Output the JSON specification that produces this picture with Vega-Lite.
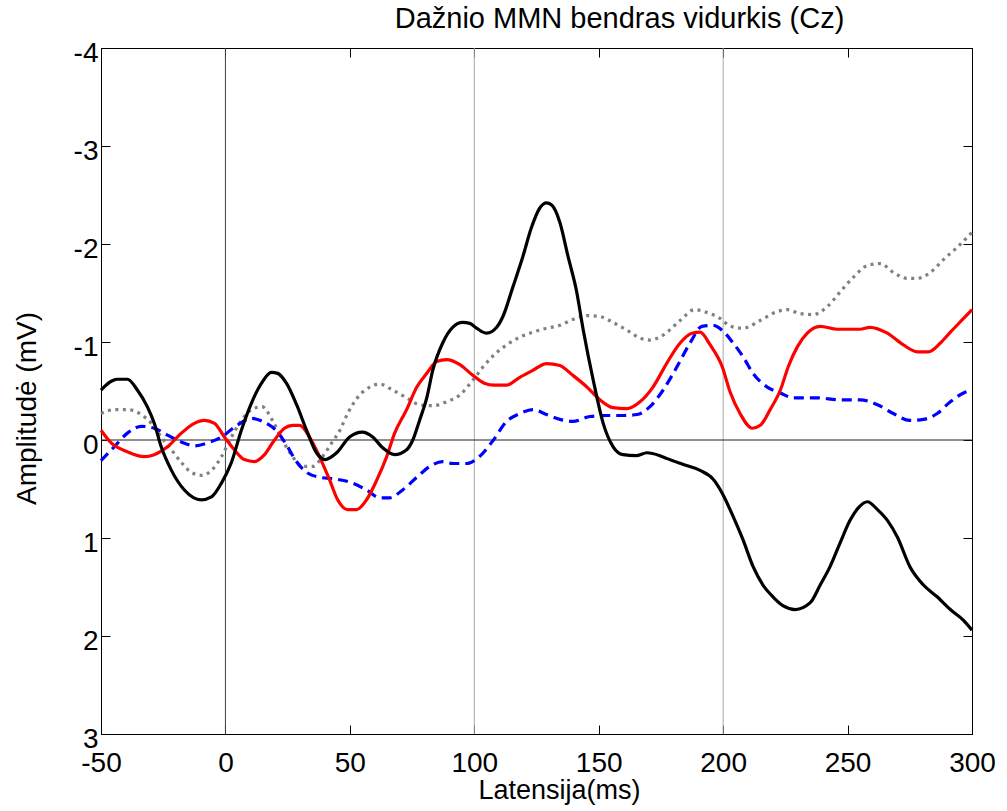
{
  "$schema": "https://vega.github.io/schema/vega-lite/v6.json",
  "width": 871,
  "height": 686,
  "autosize": {"type": "none"},
  "padding": {"left": 101, "top": 48, "right": 35, "bottom": 77},
  "background": "white",
  "config": {"font": "Liberation Sans", "view": {"stroke": "black", "strokeWidth": 1}},
  "title": {"text": "Dažnio MMN bendras vidurkis (Cz)", "font": "Liberation Sans", "fontSize": 29, "fontWeight": "normal", "color": "black", "anchor": "middle", "dx": 83, "dy": 33, "baseline": "alphabetic", "offset": 15, "frame": "group"},
  "datasets": {
    "vgrid": [{"t": 100}, {"t": 200}],
    "vzero": [{"t": 0}],
    "hzero": [{"v": 0}],
    "black": [
      {"t": -50, "v": -0.51}, {"t": -43.5, "v": -0.62}, {"t": -39.4, "v": -0.62}, {"t": -35.4, "v": -0.51}, {"t": -31.4, "v": -0.34},
      {"t": -28.6, "v": -0.17}, {"t": -25.8, "v": 0.07}, {"t": -21.7, "v": 0.31}, {"t": -16.5, "v": 0.51}, {"t": -9.7, "v": 0.61},
      {"t": -5.6, "v": 0.58}, {"t": -1.6, "v": 0.44}, {"t": 2.4, "v": 0.23}, {"t": 6.4, "v": -0.1}, {"t": 10.5, "v": -0.38},
      {"t": 14.5, "v": -0.58}, {"t": 18.5, "v": -0.69}, {"t": 21, "v": -0.68}, {"t": 24.5, "v": -0.58}, {"t": 28.6, "v": -0.36},
      {"t": 32.6, "v": -0.1}, {"t": 36.6, "v": 0.13}, {"t": 40, "v": 0.2}, {"t": 44.7, "v": 0.13}, {"t": 49.9, "v": -0.03},
      {"t": 55, "v": -0.08}, {"t": 59.2, "v": -0.03}, {"t": 63.2, "v": 0.08}, {"t": 68, "v": 0.15}, {"t": 72.8, "v": 0.1},
      {"t": 75.3, "v": 0}, {"t": 78, "v": -0.2}, {"t": 81, "v": -0.44}, {"t": 83.3, "v": -0.71}, {"t": 87.3, "v": -0.99},
      {"t": 91.3, "v": -1.15}, {"t": 95.4, "v": -1.2}, {"t": 98.2, "v": -1.19}, {"t": 101, "v": -1.14}, {"t": 105, "v": -1.09},
      {"t": 109, "v": -1.15}, {"t": 111.5, "v": -1.26}, {"t": 115.5, "v": -1.56}, {"t": 119.5, "v": -1.87}, {"t": 123, "v": -2.17},
      {"t": 126.4, "v": -2.37}, {"t": 129, "v": -2.42}, {"t": 131, "v": -2.4}, {"t": 134.4, "v": -2.22}, {"t": 137.7, "v": -1.87},
      {"t": 141, "v": -1.53}, {"t": 143.8, "v": -1.12}, {"t": 147.8, "v": -0.61}, {"t": 151.8, "v": -0.17}, {"t": 155.8, "v": 0.07},
      {"t": 159.8, "v": 0.15}, {"t": 165, "v": 0.16}, {"t": 169.4, "v": 0.13}, {"t": 174.6, "v": 0.16}, {"t": 177.5, "v": 0.19},
      {"t": 184, "v": 0.25}, {"t": 190.7, "v": 0.31}, {"t": 196, "v": 0.4}, {"t": 200, "v": 0.56}, {"t": 204, "v": 0.78},
      {"t": 208, "v": 1.02}, {"t": 212, "v": 1.29}, {"t": 216, "v": 1.48}, {"t": 220, "v": 1.6}, {"t": 224, "v": 1.69},
      {"t": 229, "v": 1.73}, {"t": 235, "v": 1.66}, {"t": 239, "v": 1.48}, {"t": 243, "v": 1.29}, {"t": 247, "v": 1.05},
      {"t": 251, "v": 0.82}, {"t": 254.4, "v": 0.69}, {"t": 258, "v": 0.63}, {"t": 262, "v": 0.71}, {"t": 266, "v": 0.82},
      {"t": 270, "v": 0.99}, {"t": 275, "v": 1.29}, {"t": 280.5, "v": 1.48}, {"t": 286, "v": 1.6}, {"t": 291.3, "v": 1.73},
      {"t": 296.6, "v": 1.84}, {"t": 300, "v": 1.94}
    ],
    "red": [
      {"t": -50, "v": -0.1}, {"t": -45.9, "v": 0.03}, {"t": -39.4, "v": 0.12}, {"t": -32.6, "v": 0.17}, {"t": -28.6, "v": 0.15},
      {"t": -23.3, "v": 0.07}, {"t": -17.7, "v": -0.07}, {"t": -12.5, "v": -0.17}, {"t": -8.5, "v": -0.2}, {"t": -4.4, "v": -0.17},
      {"t": -0.4, "v": -0.03}, {"t": 3.6, "v": 0.1}, {"t": 7.6, "v": 0.2}, {"t": 11.7, "v": 0.22}, {"t": 15.7, "v": 0.15},
      {"t": 19.7, "v": 0}, {"t": 23.7, "v": -0.12}, {"t": 27, "v": -0.15}, {"t": 29.8, "v": -0.15}, {"t": 33.8, "v": -0.03},
      {"t": 37.8, "v": 0.17}, {"t": 41.9, "v": 0.41}, {"t": 45.1, "v": 0.61}, {"t": 49.1, "v": 0.71}, {"t": 52.7, "v": 0.71},
      {"t": 56.7, "v": 0.61}, {"t": 60.8, "v": 0.41}, {"t": 64.8, "v": 0.17}, {"t": 68, "v": -0.07}, {"t": 72.8, "v": -0.31},
      {"t": 76.9, "v": -0.54}, {"t": 80.9, "v": -0.68}, {"t": 84.9, "v": -0.8}, {"t": 88.9, "v": -0.82}, {"t": 94.2, "v": -0.77},
      {"t": 99.4, "v": -0.66}, {"t": 104, "v": -0.58}, {"t": 108, "v": -0.56}, {"t": 113, "v": -0.56}, {"t": 118.3, "v": -0.64},
      {"t": 123.5, "v": -0.71}, {"t": 129, "v": -0.78}, {"t": 134.4, "v": -0.76}, {"t": 139.6, "v": -0.66}, {"t": 145.3, "v": -0.54},
      {"t": 150.5, "v": -0.41}, {"t": 155.7, "v": -0.33}, {"t": 161.4, "v": -0.32}, {"t": 166.6, "v": -0.39}, {"t": 171.8, "v": -0.54},
      {"t": 177.5, "v": -0.79}, {"t": 182.7, "v": -0.99}, {"t": 187.5, "v": -1.09}, {"t": 190.7, "v": -1.1}, {"t": 194.8, "v": -0.97},
      {"t": 199.6, "v": -0.75}, {"t": 202.8, "v": -0.49}, {"t": 206.8, "v": -0.27}, {"t": 211.7, "v": -0.12}, {"t": 214.9, "v": -0.15},
      {"t": 218.9, "v": -0.31}, {"t": 223, "v": -0.51}, {"t": 226.2, "v": -0.75}, {"t": 229.8, "v": -0.95}, {"t": 233.8, "v": -1.09},
      {"t": 239, "v": -1.16}, {"t": 245.9, "v": -1.13}, {"t": 255, "v": -1.13}, {"t": 259, "v": -1.15}, {"t": 266, "v": -1.09},
      {"t": 272.4, "v": -0.97}, {"t": 278, "v": -0.9}, {"t": 282.5, "v": -0.9}, {"t": 287.3, "v": -0.99}, {"t": 291.3, "v": -1.1},
      {"t": 296.6, "v": -1.24}, {"t": 300, "v": -1.33}
    ],
    "blue": [
      {"t": -50, "v": 0.21}, {"t": -44.7, "v": 0.07}, {"t": -39.4, "v": -0.07}, {"t": -33.8, "v": -0.14}, {"t": -28.6, "v": -0.12},
      {"t": -23.3, "v": -0.05}, {"t": -17.7, "v": 0.02}, {"t": -12.5, "v": 0.06}, {"t": -7.2, "v": 0.03}, {"t": -1.6, "v": -0.03},
      {"t": 3.6, "v": -0.13}, {"t": 10.5, "v": -0.22}, {"t": 15.7, "v": -0.18}, {"t": 21, "v": -0.08}, {"t": 25, "v": 0.07},
      {"t": 28, "v": 0.2}, {"t": 32.6, "v": 0.33}, {"t": 37.8, "v": 0.38}, {"t": 44.7, "v": 0.4}, {"t": 51.1, "v": 0.44},
      {"t": 56.7, "v": 0.51}, {"t": 62, "v": 0.59}, {"t": 66, "v": 0.59}, {"t": 71.2, "v": 0.51}, {"t": 76.9, "v": 0.38},
      {"t": 82.1, "v": 0.27}, {"t": 87.3, "v": 0.22}, {"t": 91.3, "v": 0.24}, {"t": 97, "v": 0.24}, {"t": 102, "v": 0.17},
      {"t": 107.4, "v": 0.01}, {"t": 113, "v": -0.19}, {"t": 118.3, "v": -0.27}, {"t": 123.5, "v": -0.31}, {"t": 129, "v": -0.26},
      {"t": 134.4, "v": -0.21}, {"t": 139.6, "v": -0.19}, {"t": 146.5, "v": -0.24}, {"t": 153.3, "v": -0.25}, {"t": 160, "v": -0.25},
      {"t": 165.4, "v": -0.26}, {"t": 170.6, "v": -0.34}, {"t": 175.9, "v": -0.51}, {"t": 181.5, "v": -0.75}, {"t": 186.7, "v": -0.99},
      {"t": 191.5, "v": -1.16}, {"t": 196, "v": -1.17}, {"t": 200.4, "v": -1.1}, {"t": 204, "v": -0.99}, {"t": 208, "v": -0.85},
      {"t": 212, "v": -0.68}, {"t": 217.7, "v": -0.54}, {"t": 223, "v": -0.48}, {"t": 228.2, "v": -0.43}, {"t": 237.8, "v": -0.43},
      {"t": 247, "v": -0.41}, {"t": 255, "v": -0.41}, {"t": 262, "v": -0.36}, {"t": 268.4, "v": -0.27}, {"t": 275, "v": -0.2},
      {"t": 280.5, "v": -0.21}, {"t": 286, "v": -0.27}, {"t": 291.3, "v": -0.39}, {"t": 296.6, "v": -0.48}, {"t": 300, "v": -0.51}
    ],
    "gray": [
      {"t": -50, "v": -0.27}, {"t": -44.7, "v": -0.31}, {"t": -39.4, "v": -0.31}, {"t": -33.8, "v": -0.26}, {"t": -29.8, "v": -0.17},
      {"t": -25.8, "v": -0.03}, {"t": -21.7, "v": 0.1}, {"t": -17.7, "v": 0.23}, {"t": -13.7, "v": 0.33}, {"t": -9.7, "v": 0.36},
      {"t": -5.6, "v": 0.31}, {"t": -1.6, "v": 0.17}, {"t": 2.4, "v": -0.03}, {"t": 6.4, "v": -0.2}, {"t": 10.5, "v": -0.31},
      {"t": 14.7, "v": -0.34}, {"t": 18.9, "v": -0.2}, {"t": 22.9, "v": 0}, {"t": 27, "v": 0.17}, {"t": 31, "v": 0.27},
      {"t": 35, "v": 0.27}, {"t": 39, "v": 0.17}, {"t": 42.7, "v": 0.03}, {"t": 46, "v": -0.1}, {"t": 49.1, "v": -0.27},
      {"t": 52.7, "v": -0.42}, {"t": 58, "v": -0.54}, {"t": 62, "v": -0.57}, {"t": 67.2, "v": -0.51}, {"t": 72.8, "v": -0.43},
      {"t": 78, "v": -0.36}, {"t": 83.3, "v": -0.35}, {"t": 88.9, "v": -0.39}, {"t": 94.2, "v": -0.46}, {"t": 99.4, "v": -0.61},
      {"t": 104, "v": -0.76}, {"t": 108, "v": -0.87}, {"t": 113, "v": -0.97}, {"t": 118.3, "v": -1.05}, {"t": 123.5, "v": -1.1},
      {"t": 129, "v": -1.14}, {"t": 134.4, "v": -1.17}, {"t": 139.6, "v": -1.23}, {"t": 145.3, "v": -1.27}, {"t": 150.5, "v": -1.26},
      {"t": 155.7, "v": -1.2}, {"t": 161.4, "v": -1.12}, {"t": 166.6, "v": -1.04}, {"t": 170.6, "v": -1.02}, {"t": 175.9, "v": -1.07},
      {"t": 182.7, "v": -1.22}, {"t": 188.5, "v": -1.33}, {"t": 193.6, "v": -1.3}, {"t": 198.8, "v": -1.24}, {"t": 203, "v": -1.16},
      {"t": 208, "v": -1.14}, {"t": 214.9, "v": -1.22}, {"t": 221.7, "v": -1.31}, {"t": 225.8, "v": -1.33}, {"t": 231, "v": -1.29},
      {"t": 236.2, "v": -1.28}, {"t": 241.8, "v": -1.36}, {"t": 247, "v": -1.51}, {"t": 252.3, "v": -1.66}, {"t": 258, "v": -1.78},
      {"t": 263.2, "v": -1.8}, {"t": 268.4, "v": -1.71}, {"t": 274, "v": -1.65}, {"t": 278, "v": -1.65}, {"t": 283.3, "v": -1.71},
      {"t": 288.5, "v": -1.84}, {"t": 294.2, "v": -1.97}, {"t": 300, "v": -2.12}
    ]
  },
  "resolve": {"axis": {"x": "independent", "y": "independent"}},
  "layer": [
    {
      "data": {"name": "vgrid"},
      "mark": {"type": "rule", "color": "#a8a8a8", "strokeWidth": 1},
      "encoding": {
        "x": {"field": "t", "type": "quantitative",
          "scale": {"domain": [-50, 300], "nice": false, "zero": false},
          "axis": {"orient": "bottom", "values": [-50, 0, 50, 100, 150, 200, 250, 300], "labelExpr": "'' + datum.value",
            "grid": false, "domainColor": "black", "domainWidth": 1, "tickColor": "black", "tickSize": -9, "tickWidth": 1,
            "labelFont": "Liberation Sans", "labelFontSize": 28, "labelColor": "black", "labelPadding": 46, "labelBaseline": "alphabetic",
            "labelFlush": false, "labelOverlap": false,
            "title": "Latensija(ms)", "titleFont": "Liberation Sans", "titleFontSize": 27, "titleFontWeight": "normal", "titleColor": "black",
            "titleX": 458, "titleY": 64, "titleBaseline": "alphabetic", "titleAlign": "center", "titleAnchor": "middle"}
        }
      }
    },
    {
      "data": {"name": "vzero"},
      "mark": {"type": "rule", "color": "#404040", "strokeWidth": 1},
      "encoding": {
        "x": {"field": "t", "type": "quantitative",
          "axis": {"orient": "top", "values": [-50, 0, 50, 100, 150, 200, 250, 300], "labels": false, "grid": false,
            "domainColor": "black", "domainWidth": 1, "tickColor": "black", "tickSize": -9, "tickWidth": 1, "title": null}
        }
      }
    },
    {
      "data": {"name": "hzero"},
      "mark": {"type": "rule", "color": "#202020", "strokeWidth": 1},
      "encoding": {
        "y": {"field": "v", "type": "quantitative",
          "scale": {"domain": [-4, 3], "nice": false, "zero": false, "reverse": true},
          "axis": {"orient": "left", "values": [-4, -3, -2, -1, 0, 1, 2, 3], "labelExpr": "'' + datum.value",
            "grid": false, "domainColor": "black", "domainWidth": 1, "tickColor": "black", "tickSize": -9, "tickWidth": 1,
            "labelFont": "Liberation Sans", "labelFontSize": 28, "labelColor": "black", "labelPadding": 12, "labelOffset": 5,
            "labelFlush": false, "labelOverlap": false, "labelAlign": "right", "labelBaseline": "middle",
            "title": "Amplitudė (mV)", "titleFont": "Liberation Sans", "titleFontSize": 28, "titleFontWeight": "normal", "titleColor": "black",
            "titleX": -66, "titleY": 360, "titleAngle": 270, "titleBaseline": "alphabetic", "titleAlign": "center", "titleAnchor": "middle"}
        }
      }
    },
    {
      "data": {"name": "gray"},
      "mark": {"type": "line", "color": "#808080", "strokeWidth": 3.2, "strokeDash": [3, 4.5], "strokeCap": "butt", "interpolate": "monotone"},
      "encoding": {
        "x": {"field": "t", "type": "quantitative", "axis": null},
        "y": {"field": "v", "type": "quantitative",
          "axis": {"orient": "right", "values": [-4, -3, -2, -1, 0, 1, 2, 3], "labels": false, "grid": false,
            "domainColor": "black", "domainWidth": 1, "tickColor": "black", "tickSize": -9, "tickWidth": 1, "title": null}}
      }
    },
    {
      "data": {"name": "blue"},
      "mark": {"type": "line", "color": "#0000ff", "strokeWidth": 3.2, "strokeDash": [10, 6], "strokeCap": "butt", "interpolate": "monotone"},
      "encoding": {
        "x": {"field": "t", "type": "quantitative", "axis": null},
        "y": {"field": "v", "type": "quantitative", "axis": null}
      }
    },
    {
      "data": {"name": "red"},
      "mark": {"type": "line", "color": "#ff0000", "strokeWidth": 3.2, "interpolate": "monotone"},
      "encoding": {
        "x": {"field": "t", "type": "quantitative", "axis": null},
        "y": {"field": "v", "type": "quantitative", "axis": null}
      }
    },
    {
      "data": {"name": "black"},
      "mark": {"type": "line", "color": "#000000", "strokeWidth": 3.2, "interpolate": "monotone"},
      "encoding": {
        "x": {"field": "t", "type": "quantitative", "axis": null},
        "y": {"field": "v", "type": "quantitative", "axis": null}
      }
    }
  ]
}
